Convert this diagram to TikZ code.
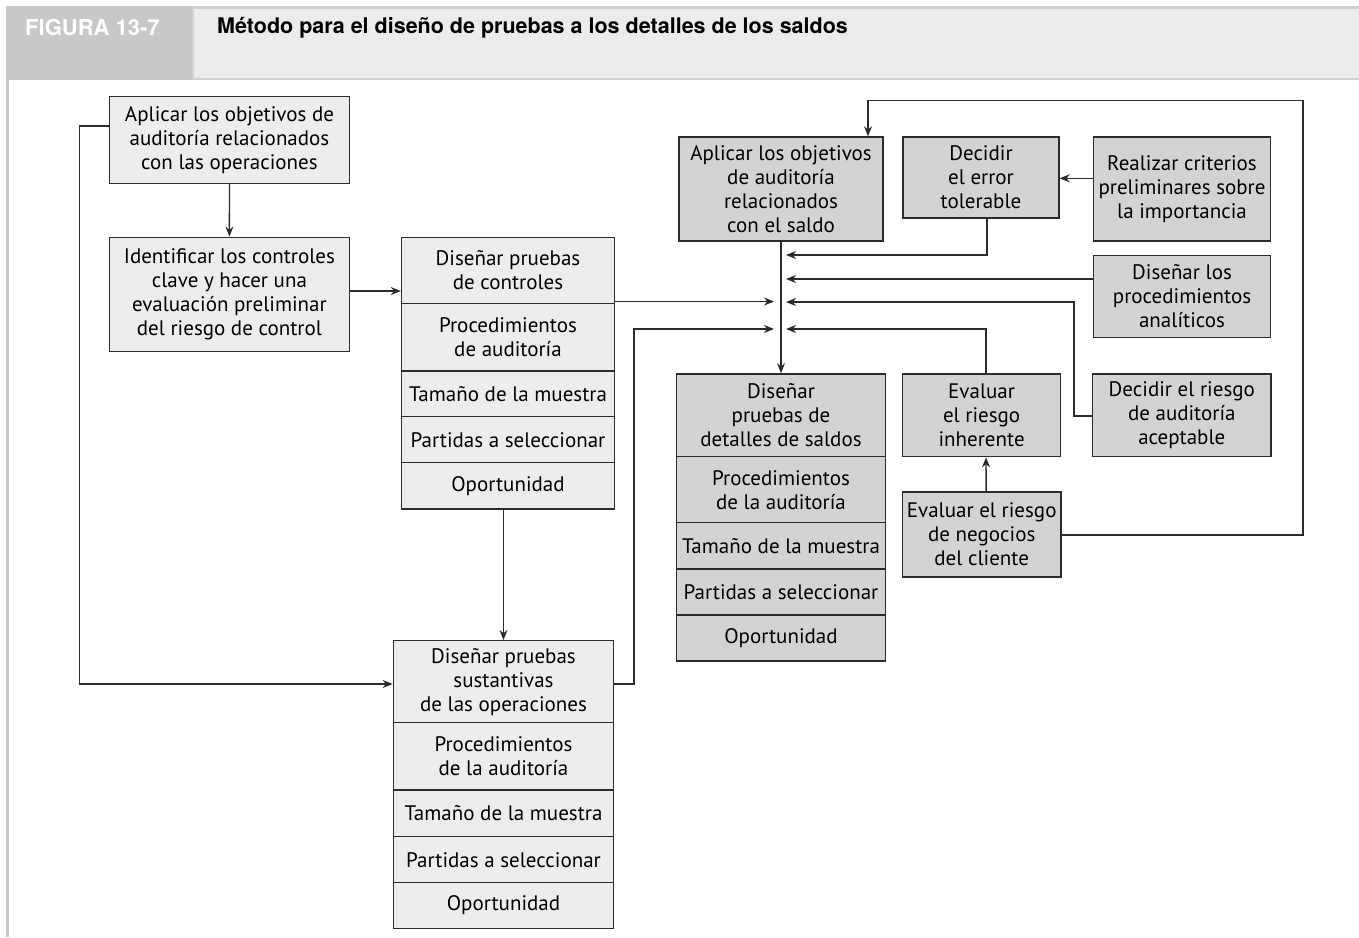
\documentclass[tikz,border=0pt]{standalone}
\usepackage{fontspec}
\usepackage{graphicx}
\setmainfont{PT Sans}
\newfontfamily\headfont{TeX Gyre Heros}
\usetikzlibrary{arrows.meta}
\definecolor{lightfill}{HTML}{EDEDED}
\definecolor{darkfill}{HTML}{D3D3D5}
\definecolor{linec}{HTML}{2B2B2B}
\definecolor{headgray}{HTML}{C8C8C8}
\definecolor{panelgray}{HTML}{ECECEC}
\definecolor{panelline}{HTML}{D2D2D2}
\begin{document}
\begin{tikzpicture}[x=1pt,y=-1pt,
  box/.style={draw=linec, line width=1.4pt, align=center, inner sep=0pt,
    font=\fontsize{21}{24}\selectfont, text=black},
  lbox/.style={box, fill=lightfill},
  dbox/.style={box, fill=darkfill},
  conn/.style={draw=linec, line width=1.4pt},
  arr/.style={conn, -{Stealth[length=10pt,width=8pt]}},
]
\useasboundingbox (0,0) rectangle (1359,937);
\fill[white] (0,0) rectangle (1359,937);
% header
\fill[headgray] (6,6) rectangle (192,80);
\fill[panelline] (192,6) rectangle (1359,80);
\fill[panelgray] (194,9) rectangle (1359,77.5);
\fill[headgray] (6,80) rectangle (9,937);
\node[anchor=base west, inner sep=0pt, text=white, font=\headfont\bfseries\fontsize{22}{24}\selectfont] (fig) at (25,35) {FIGURA 13-7};
\node[anchor=base west, inner sep=0pt, text=black, font=\headfont\bfseries\fontsize{21.5}{24}\selectfont] (title) at (217,33) {Método para el diseño de pruebas a los detalles de los saldos};

% left column
\node[lbox, minimum width=240pt, minimum height=86.6pt] (A1) at (229.5,140) {Aplicar los objetivos de\\auditoría relacionados\\con las operaciones};
\node[lbox, minimum width=240pt, minimum height=114.4pt] (IC) at (229.4,294.5) {Identificar los controles\\clave y hacer una\\evaluación preliminar\\del riesgo de control};

% tests of controls stack
\node[lbox, minimum width=213pt, minimum height=66pt] (DC1) at (508,270.3) {Diseñar pruebas\\de controles};
\node[lbox, minimum width=213pt, minimum height=67.7pt] (DC2) at (508,337.2) {Procedimientos\\de auditoría};
\node[lbox, minimum width=213pt, minimum height=45.7pt] (DC3) at (508,393.8) {Tamaño de la muestra};
\node[lbox, minimum width=213pt, minimum height=46pt] (DC4) at (508,439.7) {Partidas a seleccionar};
\node[lbox, minimum width=213pt, minimum height=46.3pt] (DC5) at (508,485.8) {Oportunidad};

% substantive tests stack
\node[lbox, minimum width=220.3pt, minimum height=82pt] (ST1) at (503.5,681.7) {Diseñar pruebas\\sustantivas\\de las operaciones};
\node[lbox, minimum width=220.3pt, minimum height=67.3pt] (ST2) at (503.5,756.3) {Procedimientos\\de la auditoría};
\node[lbox, minimum width=220.3pt, minimum height=46.7pt] (ST3) at (503.5,813.3) {Tamaño de la muestra};
\node[lbox, minimum width=220.3pt, minimum height=46pt] (ST4) at (503.5,859.7) {Partidas a seleccionar};
\node[lbox, minimum width=220.3pt, minimum height=45.6pt] (ST5) at (503.5,905.5) {Oportunidad};

% right part
\node[dbox, minimum width=204pt, minimum height=104pt] (AS) at (781,189) {Aplicar los objetivos\\de auditoría\\relacionados\\con el saldo};
\node[dbox, minimum width=156pt, minimum height=81pt] (DE) at (981,177.5) {Decidir\\el error\\tolerable};
\node[dbox, minimum width=177.5pt, minimum height=104.3pt] (RC) at (1182,189) {Realizar criterios\\preliminares sobre\\la importancia};
\node[dbox, minimum width=177.5pt, minimum height=81.6pt] (DP) at (1182,296.5) {Diseñar los\\procedimientos\\analíticos};

\node[dbox, minimum width=209pt, minimum height=82.7pt] (DD1) at (781,415.3) {Diseñar\\pruebas de\\detalles de saldos};
\node[dbox, minimum width=209pt, minimum height=66pt] (DD2) at (781,489.7) {Procedimientos\\de la auditoría};
\node[dbox, minimum width=209pt, minimum height=46.3pt] (DD3) at (781,545.8) {Tamaño de la muestra};
\node[dbox, minimum width=209pt, minimum height=46pt] (DD4) at (781,592) {Partidas a seleccionar};
\node[dbox, minimum width=209pt, minimum height=46pt] (DD5) at (781,638) {Oportunidad};

\node[dbox, minimum width=158.3pt, minimum height=82.7pt] (ER) at (981.6,415.3) {Evaluar\\el riesgo\\inherente};
\node[dbox, minimum width=178.2pt, minimum height=82.7pt] (DR) at (1181.8,415.3) {Decidir el riesgo\\de auditoría\\aceptable};
\node[dbox, minimum width=158.5pt, minimum height=85pt] (EN) at (981.7,534.5) {Evaluar el riesgo\\de negocios\\del cliente};

% junction points at the trunk
\coordinate (jL1) at (774,301.5);
\coordinate (jL2) at (774,329);
\coordinate (jR1) at (786,255);
\coordinate (jR2) at (786,279);
\coordinate (jR3) at (786,302);
\coordinate (jR4) at (786,329);
\coordinate (topR) at (1302.8,100.7);
\coordinate (topL) at (868,100.7);
\coordinate (leftX) at (79.4,126);
\coordinate (midX) at (634,329);

% connectors
\draw[arr] ([yshift=14pt]A1.west) -- (leftX) |- ([yshift=-2.3pt]ST1.west);
\draw[arr] (A1.south) -- (IC.north);
\draw[arr] ([yshift=3.5pt]IC.east) -- ([yshift=3.5pt]IC.east -| DC1.west);
\draw[arr] (ST1.north |- DC5.south) -- (ST1.north);
\draw[arr] ([yshift=-31.2pt]DC1.east) -- (jL1);
\draw[arr] ([yshift=-2.3pt]ST1.east) -| (midX) -- (jL2);
\draw[arr] (AS.south) -- (DD1.north);
\draw[arr] ([xshift=6pt]DE.south) |- (jR1);
\draw[arr] ([yshift=17.5pt]DP.west) -- (jR2);
\draw[arr] ([yshift=-0.7pt]DR.west) -- ++(-18,0) |- (jR3);
\draw[arr] ([xshift=4.4pt]ER.north) |- (jR4);
\draw[arr] ([xshift=4.4pt]EN.north) -- ([xshift=4.4pt]ER.south);
\draw[arr] ([yshift=10.7pt]RC.west) -- ([yshift=10.7pt]RC.west -| DE.east);
\draw[arr] ([yshift=-0.5pt]EN.east) -| (topR) -- (topL) -- (topL |- AS.north);
\end{tikzpicture}
\end{document}
